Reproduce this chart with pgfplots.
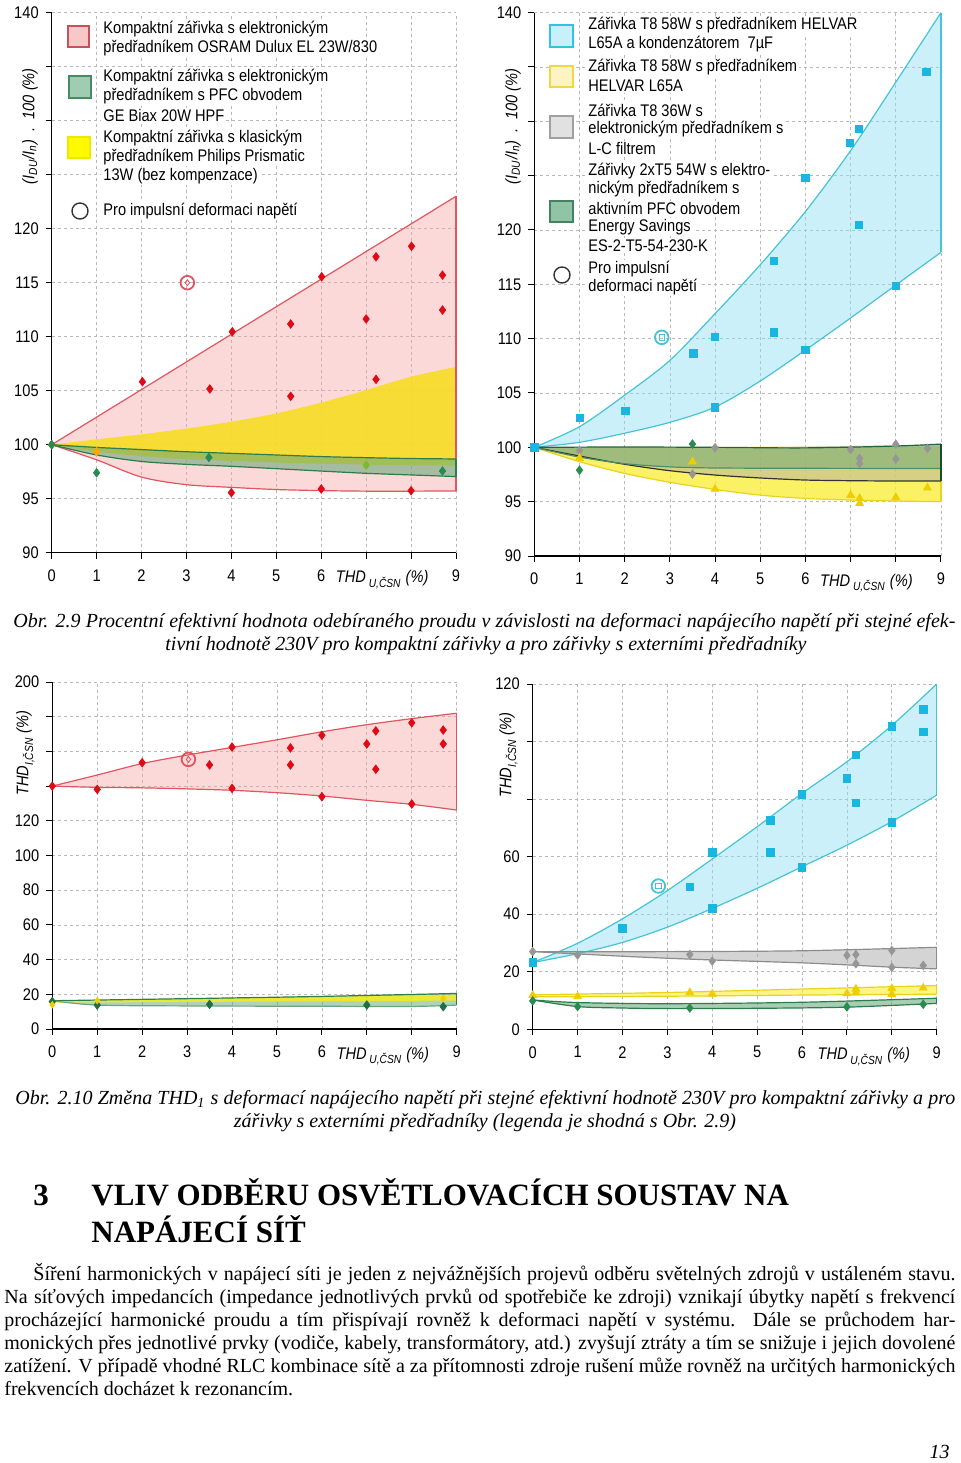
\documentclass[border=0pt]{standalone}
\usepackage{fontspec}
\setmainfont{Liberation Serif}
\newfontfamily\sans{Liberation Sans}[FakeStretch=0.87]
\usepackage{pgfplots}
\pgfplotsset{compat=1.18}
\usepgfplotslibrary{fillbetween}

\definecolor{mred}{RGB}{225,10,20}
\definecolor{pinkline}{RGB}{225,85,95}
\definecolor{pinkfill}{RGB}{245,160,160}
\definecolor{gold}{RGB}{248,220,40}
\definecolor{gline}{RGB}{45,125,75}
\definecolor{gfill}{RGB}{95,165,120}
\definecolor{gmk}{RGB}{40,140,80}
\definecolor{cyanline}{RGB}{70,195,215}
\definecolor{cyanfill}{RGB}{140,222,242}
\definecolor{cyanmk}{RGB}{25,182,225}
\definecolor{ylwfill}{RGB}{250,236,50}
\definecolor{ylwline}{RGB}{232,212,30}
\definecolor{ymk}{RGB}{240,205,0}
\definecolor{grayfill}{RGB}{170,170,170}
\definecolor{grayline}{RGB}{140,140,140}
\definecolor{graymk}{RGB}{150,150,150}

\tikzset{lab/.style={font=\sans\fontsize{8.4}{9.5}\selectfont\itshape}}
\pgfplotsset{
  pagestyle/.style={
    scale only axis, anchor=south west,
    axis lines*=left, axis line style={-, black, line width=0.6pt},
    xmin=0, xmax=9, xtick={0,...,9}, xticklabels={0,1,2,3,4,5,6,,,9},
    grid=major, major grid style={gray!55, dash pattern=on 1.5pt off 1.5pt, line width=0.35pt},
    tick align=outside, major tick length=3pt,
    major tick style={black, line width=0.5pt},
    ticklabel style={font=\sans\fontsize{8.4}{9.5}\selectfont},
    xticklabel style={yshift=-2pt},
    /pgf/number format/assume math mode=true,
    set layers, clip=false,
  },
}

\begin{document}
\begin{tikzpicture}
\path (0,0) rectangle (480pt,-731.5pt);

%% ---------- Chart 1 (top left) ----------
\begin{axis}[pagestyle, at={(25.85pt,-276.35pt)}, width=202.15pt, height=270pt,
  ymin=90, ymax=140, ytick={90,95,...,140},
  yticklabels={90,95,100,105,110,115,120,,,,140}]
\addplot[name path=pU, pinkline, line width=0.6pt] coordinates {(0,100) (9,123)};
\addplot[name path=pL, pinkline, line width=0.6pt, smooth] coordinates {(0,100) (1,98.6) (2,97.0) (3,96.3) (4,96.05) (5,95.85) (6,95.75) (7,95.7) (8,95.7) (9,95.72)};
\addplot[fill=pinkfill, fill opacity=0.4, draw=none] fill between[of=pU and pL];
\addplot[pinkline, line width=0.6pt] coordinates {(9,95.72) (9,123)};
\addplot[name path=yU, draw=none, smooth] coordinates {(0,100) (1,100.5) (2,100.96) (3,101.5) (4,102.13) (5,102.9) (6,103.9) (7,105.06) (8,106.3) (9,107.2)};
\addplot[name path=yL, draw=none, smooth] coordinates {(0,100) (1,99.35) (2,98.95) (3,98.65) (4,98.5) (5,98.35) (6,98.25) (7,98.15) (8,98.1) (9,98.05)};
\addplot[fill=gold, fill opacity=0.92, draw=none] fill between[of=yU and yL];
\addplot[name path=gU, gline, line width=0.6pt, smooth] coordinates {(0,100) (1,99.75) (2,99.55) (3,99.35) (4,99.2) (5,99.05) (6,98.9) (7,98.8) (8,98.72) (9,98.68)};
\addplot[name path=gL, gline, line width=0.6pt, smooth] coordinates {(0,100) (1,99.05) (2,98.45) (3,98.18) (4,98.0) (5,97.78) (6,97.56) (7,97.35) (8,97.2) (9,97.05)};
\addplot[fill=gfill, fill opacity=0.55, draw=none] fill between[of=gU and gL];
\addplot[gline, line width=0.6pt] coordinates {(9,97.05) (9,98.68)};
\addplot[only marks, mark=diamond*, mark size=2.1pt, color=mred] coordinates {(0,100) (2.02,105.83) (3.52,105.16) (4.02,110.46) (4.0,95.56) (5.32,111.18) (5.32,104.48) (6.0,95.9) (6.01,115.55) (7.0,111.64) (7.22,117.4) (7.22,106.05) (8.01,118.37) (8.0,95.74) (8.7,115.7) (8.7,112.47)};
\addplot[only marks, mark=diamond*, mark size=2.1pt, color=gmk] coordinates {(0,100) (1,97.4) (3.5,98.82) (8.7,97.56)};
\addplot[only marks, mark=diamond*, mark size=2.1pt, color=gmk!60!yellow] coordinates {(7,98.1)};
\addplot[only marks, mark=diamond*, mark size=2.1pt, color=orange!70!yellow] coordinates {(1,99.35)};
\addplot[only marks, mark=o, mark size=3.4pt, color=pinkline, line width=0.9pt] coordinates {(3.02,115)};
\addplot[only marks, mark=diamond, mark size=1.5pt, color=pinkline] coordinates {(3.02,115)};
\node[lab, anchor=base west, yshift=-15pt] at (axis cs:6.17,90) {THD\,\textsubscript{U,ČSN} (\%)};
\node[lab, rotate=90] at (axis cs:-0.48,129.5) {(\textit{I}\textsubscript{DU}/\textit{I}\textsubscript{n})\ \ .\ \ 100 (\%)};
\end{axis}

%% ---------- Chart 2 (top right) ----------
\begin{axis}[pagestyle, at={(267.15pt,-278pt)}, width=203.35pt, height=271.7pt,
  ymin=90, ymax=140, ytick={90,95,...,140},
  yticklabels={90,95,100,105,110,115,120,,,,140}]
\addplot[name path=cU, cyanline, line width=0.6pt, smooth] coordinates {(0,100) (1,101.9) (2,104.8) (3,108.0) (4,112.3) (5,116.8) (6,121.7) (7,127.3) (8,133.6) (9,140)};
\addplot[name path=cL, cyanline, line width=0.6pt, smooth] coordinates {(0,100) (1,100.46) (2,101.3) (3,102.3) (4,103.7) (5,106.1) (6,108.95) (7,111.9) (8,114.93) (9,117.94)};
\addplot[fill=cyanfill, fill opacity=0.45, draw=none] fill between[of=cU and cL];
\addplot[cyanline, line width=0.6pt] coordinates {(9,117.94) (9,140)};
\addplot[name path=yU2, draw=none] coordinates {(0,100) (9,100.1)};
\addplot[name path=yL2, ylwline, line width=0.6pt, smooth] coordinates {(0,100) (1,98.68) (2,97.6) (3,96.78) (4,96.13) (5,95.6) (6,95.3) (7,95.15) (8,95.06) (9,95.0)};
\addplot[fill=ylwfill, fill opacity=0.75, draw=none] fill between[of=yU2 and yL2];
\addplot[ylwline, line width=0.6pt] coordinates {(9,95.0) (9,96.9)};
\addplot[name path=grU, draw=none, smooth] coordinates {(0,100) (4,100.0) (9,100.25)};
\addplot[name path=grL, black!80, line width=0.6pt, smooth] coordinates {(0,100) (1,99.2) (2,98.44) (3,97.85) (4,97.45) (5,97.18) (6,96.99) (7,96.93) (8,96.9) (9,96.9)};
\addplot[fill=grayfill, fill opacity=0.45, draw=none] fill between[of=grU and grL];
\addplot[name path=gU2, gline!80!black, line width=0.6pt, smooth] coordinates {(0,100) (2,100.03) (4,100.0) (6,99.95) (8,100.12) (9,100.3)};
\addplot[name path=gL2, gline!85, line width=0.6pt, smooth] coordinates {(0,100) (1,99.1) (2,98.5) (3,98.2) (4,98.1) (6,98.07) (9,98.05)};
\addplot[fill=gfill, fill opacity=0.45, draw=none] fill between[of=gU2 and gL2];
\addplot[gline!60!black, line width=0.6pt] coordinates {(9,96.9) (9,100.3)};
\addplot[only marks, mark=square*, mark size=1.9pt, color=cyanmk] coordinates {(0,100) (1.01,102.72) (2.02,103.35) (3.52,108.65) (4.0,110.17) (4.0,103.7) (5.3,110.58) (6.0,108.95) (8.0,114.84) (5.3,117.14) (7.18,120.45) (6.98,128.0) (7.18,129.3) (6.0,124.8) (8.68,134.55)};
\addplot[only marks, mark=diamond*, mark size=2.1pt, color=graymk] coordinates {(1,99.7) (3.5,97.54) (4,99.97) (7,99.8) (7.2,98.98) (7.2,98.5) (8,100.28) (8,98.93) (8.7,99.9)};
\addplot[only marks, mark=diamond*, mark size=2.1pt, color=gmk] coordinates {(1,97.9) (3.5,100.3)};
\addplot[only marks, mark=triangle*, mark size=2.2pt, color=ymk] coordinates {(1,99.0) (3.5,98.68) (4,96.16) (7,95.6) (7.2,95.3) (7.2,94.85) (8,95.4) (8.7,96.28)};
\addplot[only marks, mark=o, mark size=3.4pt, color=cyanline, line width=0.9pt] coordinates {(2.82,110.12)};
\addplot[only marks, mark=square, mark size=1.3pt, color=cyanline] coordinates {(2.82,110.12)};
\node[lab, anchor=base west, yshift=-15pt] at (axis cs:6.17,90) {THD\,\textsubscript{U,ČSN} (\%)};
\node[lab, rotate=90] at (axis cs:-0.47,129.5) {(\textit{I}\textsubscript{DU}/\textit{I}\textsubscript{n})\ \ .\ \ 100 (\%)};
\end{axis}

%% ---------- Chart 3 (bottom left) ----------
\begin{axis}[pagestyle, at={(26.15pt,-514.5pt)}, width=202.2pt, height=173.5pt,
  ymin=0, ymax=200, ytick={0,20,...,200},
  yticklabels={0,20,40,60,80,100,120,,,,200}]
\addplot[name path=rU3, pinkline, line width=0.6pt, smooth] coordinates {(0,140) (1,146.4) (2,153.0) (3,157.9) (4,162.3) (5,166.7) (6,171.3) (7,175.4) (8,178.9) (9,182)};
\addplot[name path=rL3, pinkline, line width=0.6pt, smooth] coordinates {(0,140) (1,139.3) (2,139.0) (3,138.4) (4,137.6) (5,136.2) (6,134.3) (7,131.8) (8,129.5) (9,126.2)};
\addplot[fill=pinkfill, fill opacity=0.4, draw=none] fill between[of=rU3 and rL3];
\addplot[pinkline, line width=0.6pt] coordinates {(9,126.2) (9,182)};
\addplot[name path=gU3, gline, line width=0.6pt, smooth] coordinates {(0,16.3) (3,17.5) (6,18.8) (9,20.5)};
\addplot[name path=gL3, gline!70, line width=0.6pt, smooth] coordinates {(0,16.3) (1,13.8) (3,13.3) (6,13.1) (8,13.0) (9,13.8)};
\addplot[fill=gfill, fill opacity=0.5, draw=none] fill between[of=gU3 and gL3];
\addplot[name path=yU3, draw=none] coordinates {(0,16.2) (9,19.8)};
\addplot[name path=yL3, draw=none] coordinates {(0,15.2) (9,16.4)};
\addplot[fill=yellow, fill opacity=0.75, draw=none] fill between[of=yU3 and yL3];
\addplot[gline, line width=0.6pt] coordinates {(9,13.8) (9,20.5)};
\addplot[only marks, mark=diamond*, mark size=2.1pt, color=mred] coordinates {(0,140) (1,138.1) (2,153.5) (3.5,152.2) (4,162.5) (4,138.7) (5.3,162) (5.3,152.2) (6,169.3) (6,133.9) (7,164.3) (7.2,171.8) (7.2,149.7) (8,176.5) (8,129.7) (8.7,172.3) (8.7,164.3)};
\addplot[only marks, mark=diamond*, mark size=2.1pt, color=gmk!80!black] coordinates {(0,15.8) (1,13.8) (3.5,14.2) (7,13.8) (8.7,12.9)};
\addplot[only marks, mark=diamond*, mark size=1.6pt, color=ymk] coordinates {(0,14) (1,16.4) (8.7,17.5)};
\addplot[only marks, mark=o, mark size=3.4pt, color=pinkline, line width=0.9pt] coordinates {(3.03,155.4)};
\addplot[only marks, mark=diamond, mark size=1.5pt, color=pinkline] coordinates {(3.03,155.4)};
\node[lab, anchor=base west, yshift=-15pt] at (axis cs:6.17,0) {THD\,\textsubscript{U,ČSN} (\%)};
\node[lab, rotate=90] at (axis cs:-0.6,158.9) {THD\textsubscript{I,ČSN} (\%)};
\end{axis}

%% ---------- Chart 4 (bottom right) ----------
\begin{axis}[pagestyle, at={(266.35pt,-514.65pt)}, width=202pt, height=172.65pt,
  ymin=0, ymax=120, ytick={0,20,...,120},
  yticklabels={0,20,40,60,,,120}]
\addplot[name path=cU4, cyanline, line width=0.6pt, smooth] coordinates {(0,23.2) (1,29.9) (2,38.4) (3,48.2) (4,59.2) (5,70.4) (6,82) (7,93) (8,105.6) (9,120)};
\addplot[name path=cL4, cyanline, line width=0.6pt, smooth] coordinates {(0,23.2) (1,26.3) (2,30.2) (3,35.5) (4,42) (5,49) (6,56.5) (7,64) (8,72.2) (9,81.4)};
\addplot[fill=cyanfill, fill opacity=0.45, draw=none] fill between[of=cU4 and cL4];
\addplot[cyanline, line width=0.6pt] coordinates {(9,81.4) (9,120)};
\addplot[name path=grU4, grayline, line width=0.6pt, smooth] coordinates {(0,27) (3,27) (6,27.3) (9,28.5)};
\addplot[name path=grL4, grayline, line width=0.6pt, smooth] coordinates {(0,27) (1,26.2) (2,25.4) (3,24.7) (4,24.1) (5,23.6) (6,23.1) (7,22.4) (8,21.6) (9,21)};
\addplot[fill=grayfill, fill opacity=0.5, draw=none] fill between[of=grU4 and grL4];
\addplot[grayline, line width=0.6pt] coordinates {(9,21) (9,28.5)};
\addplot[name path=yU4, ylwline, line width=0.6pt, smooth] coordinates {(0,12) (3,12.8) (6,14) (9,15.2)};
\addplot[name path=yL4, ylwline, line width=0.6pt, smooth] coordinates {(0,11.3) (3,11.5) (6,11.9) (9,12.2)};
\addplot[fill=ylwfill, fill opacity=0.6, draw=none] fill between[of=yU4 and yL4];
\addplot[ylwline, line width=0.6pt] coordinates {(9,12.2) (9,15.2)};
\addplot[name path=gU4, gline, line width=0.6pt, smooth] coordinates {(0,10.2) (1,9.3) (3,8.9) (6,9.4) (9,10.8)};
\addplot[name path=gL4, gline, line width=0.6pt, smooth] coordinates {(0,10.2) (1,7.9) (2,7.4) (3,7.2) (5,7.3) (7,7.7) (9,9.0)};
\addplot[fill=gfill, fill opacity=0.55, draw=none] fill between[of=gU4 and gL4];
\addplot[gline, line width=0.6pt] coordinates {(9,9.0) (9,10.8)};
\addplot[only marks, mark=square*, mark size=1.9pt, color=cyanmk] coordinates {(0,23.2) (2,35.1) (3.5,49.5) (4,61.4) (4,42.0) (5.3,72.7) (5.3,61.4) (6,81.7) (6,56.2) (7,87.1) (7.2,95.4) (7.2,78.7) (8,105.3) (8,72.0) (8.7,111.1) (8.7,103.4)};
\addplot[only marks, mark=diamond*, mark size=2.1pt, color=graymk] coordinates {(0,27) (1,25.8) (3.5,26) (4,23.7) (7,25.7) (7.2,26) (7.2,22.8) (8,27.4) (8,21.5) (8.7,22.2)};
\addplot[only marks, mark=triangle*, mark size=2.2pt, color=ymk] coordinates {(0,11.8) (1,11.4) (3.5,12.8) (4,12.3) (7,12.4) (7.2,14.0) (7.2,12.7) (8,14.2) (8,12.2) (8.7,14.4)};
\addplot[only marks, mark=diamond*, mark size=2.1pt, color=gmk] coordinates {(0,9.9) (1,7.9) (3.5,7.4) (7,7.8) (8.7,8.7)};
\addplot[only marks, mark=o, mark size=3.4pt, color=cyanline, line width=0.9pt] coordinates {(2.8,49.8)};
\addplot[only marks, mark=square, mark size=1.3pt, color=cyanline] coordinates {(2.8,49.8)};
\node[lab, anchor=base west, yshift=-15pt] at (axis cs:6.19,0) {THD\,\textsubscript{U,ČSN} (\%)};
\node[lab, rotate=90] at (axis cs:-0.54,95.3) {THD\textsubscript{I,ČSN} (\%)};
\end{axis}

%% ---------- Legends and page text (pixel coordinates) ----------
\begin{scope}[x=0.5pt, y=-0.5pt]
\tikzset{lt/.style={anchor=west, fill=white, inner xsep=1pt, inner ysep=0.6pt, font=\sans\fontsize{8.4}{9.5}\selectfont}}
% legend 1
\draw[fill={rgb,255:red,248;green,200;blue,200}, draw={rgb,255:red,200;green,80;blue,90}, line width=0.6pt] (68,26) rectangle (89,47);
\node[lt] at (101,29) {Kompaktní zářivka s elektronickým};
\node[lt] at (101,48) {předřadníkem OSRAM Dulux EL 23W/830};
\draw[fill={rgb,255:red,160;green,205;blue,178}, draw={rgb,255:red,70;green,140;blue,100}, line width=0.6pt] (69,76) rectangle (91,98);
\node[lt] at (101,77) {Kompaktní zářivka s elektronickým};
\node[lt] at (101,96) {předřadníkem s PFC obvodem};
\node[lt] at (101,115) {GE Biax 20W HPF};
\draw[fill={rgb,255:red,255;green,250;blue,0}, draw={rgb,255:red,240;green,230;blue,0}, line width=0.6pt] (68,137) rectangle (90,158);
\node[lt] at (101,138) {Kompaktní zářivka s klasickým};
\node[lt] at (101,157) {předřadníkem Philips Prismatic};
\node[lt] at (101,176) {13W (bez kompenzace)};
\draw[black!80, line width=0.7pt] (80,211) circle (4pt);
\node[lt] at (101,211) {Pro impulsní deformaci napětí};
% legend 2
\draw[fill={rgb,255:red,200;green,240;blue,250}, draw={rgb,255:red,50;green,195;blue,225}, line width=0.6pt] (550,25) rectangle (573,47);
\node[lt] at (586,25) {Zářivka T8 58W s předřadníkem HELVAR};
\node[lt] at (586,44) {L65A a kondenzátorem\ \ 7µF};
\draw[fill={rgb,255:red,253;green,243;blue,195}, draw={rgb,255:red,240;green,215;blue,70}, line width=0.6pt] (550,66) rectangle (573,87);
\node[lt] at (586,67) {Zářivka T8 58W s předřadníkem};
\node[lt] at (586,86) {HELVAR L65A};
\draw[fill={rgb,255:red,225;green,225;blue,225}, draw={rgb,255:red,160;green,160;blue,160}, line width=0.6pt] (550,116) rectangle (573,138);
\node[lt] at (586,110) {Zářivka T8 36W s};
\node[lt] at (586,129) {elektronickým předřadníkem s};
\node[lt] at (586,148) {L-C filtrem};
\draw[fill={rgb,255:red,145;green,195;blue,165}, draw={rgb,255:red,70;green,130;blue,95}, line width=0.6pt] (550,201) rectangle (573,222);
\node[lt] at (586,171) {Zářivky 2xT5 54W s elektro-};
\node[lt] at (586,189) {nickým předřadníkem s};
\node[lt] at (586,208) {aktivním PFC obvodem};
\node[lt] at (586,227) {Energy Savings};
\node[lt] at (586,246) {ES-2-T5-54-230-K};
\draw[black!80, line width=0.7pt] (562,275) circle (4pt);
\node[lt] at (586,269) {Pro impulsní};
\node[lt] at (586,287) {deformaci napětí};

% captions and text
\tikzset{tx/.style={anchor=base west, inner sep=0pt, font=\fontsize{10}{11.5}\selectfont}}
\node[tx, font=\fontsize{10}{11.5}\selectfont\itshape] at (13,627) {\makebox[471pt][s]{Obr. 2.9 Procentní efektivní hodnota odebíraného proudu v závislosti na deformaci napájecího napětí při stejné efek-}};
\node[anchor=base, inner sep=0pt, font=\fontsize{10}{11.5}\selectfont\itshape] at (486,650) {tivní hodnotě 230V pro kompaktní zářivky a pro zářivky s externími předřadníky};
\node[tx, font=\fontsize{10}{11.5}\selectfont\itshape] at (15,1104) {\makebox[470pt][s]{Obr. 2.10 Změna THD\textsubscript{1} s deformací napájecího napětí při stejné efektivní hodnotě 230V pro kompaktní zářivky a pro}};
\node[anchor=base, inner sep=0pt, font=\fontsize{10}{11.5}\selectfont\itshape] at (485,1127) {zářivky s externími předřadníky (legenda je shodná s Obr. 2.9)};
\node[tx, font=\fontsize{15.5}{18}\selectfont\bfseries] at (33,1205) {3};
\node[tx, font=\fontsize{15.5}{18}\selectfont\bfseries] at (91,1205) {VLIV ODBĚRU OSVĚTLOVACÍCH SOUSTAV NA};
\node[tx, font=\fontsize{15.5}{18}\selectfont\bfseries] at (91,1242) {NAPÁJECÍ SÍŤ};
\node[tx] at (33,1280) {\makebox[461pt][s]{Šíření harmonických v napájecí síti je jeden z nejvážnějších projevů odběru světelných zdrojů v ustáleném stavu.}};
\node[tx] at (4,1303) {\makebox[475.5pt][s]{Na síťových impedancích (impedance jednotlivých prvků od spotřebiče ke zdroji) vznikají úbytky napětí s frekvencí}};
\node[tx] at (4,1326) {\makebox[475.5pt][s]{procházející harmonické proudu a tím přispívají rovněž k deformaci napětí v systému. Dále se průchodem har-}};
\node[tx] at (4,1349) {\makebox[475.5pt][s]{monických přes jednotlivé prvky (vodiče, kabely, transformátory, atd.) zvyšují ztráty a tím se snižuje i jejich dovolené}};
\node[tx] at (4,1372) {\makebox[475.5pt][s]{zatížení. V případě vhodné RLC kombinace sítě a za přítomnosti zdroje rušení může rovněž na určitých harmonických}};
\node[tx] at (4,1395) {frekvencích docházet k rezonancím.};
\node[anchor=base east, inner sep=0pt, font=\fontsize{10}{11.5}\selectfont\itshape] at (950,1458) {13};
\end{scope}
\end{tikzpicture}
\end{document}
